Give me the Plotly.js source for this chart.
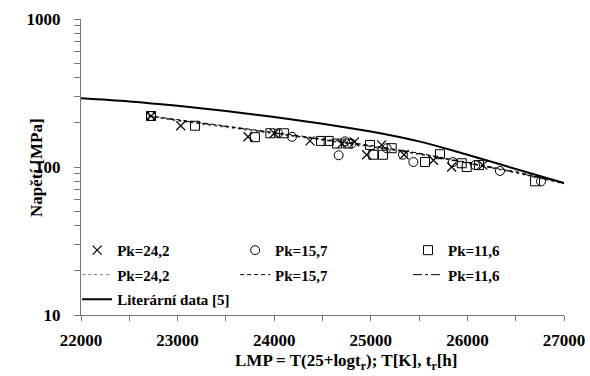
<!DOCTYPE html>
<html>
<head>
<meta charset="utf-8">
<script src="https://cdn.plot.ly/plotly-3.0.1.min.js"></script>
<style>html,body{margin:0;padding:0;background:#fff;}#chart{width:590px;height:376px;}</style>
</head>
<body>
<div id="chart"></div>
<script>
// Experimental data (LMP, stress MPa)
const lmp242 = [22725, 23032, 23729, 24000, 24371, 24700, 24830, 24957, 25112, 25345, 25648, 25837, 26160];
const sig242 = [221, 190, 160, 169, 150, 144, 148, 121, 141, 121, 111, 100, 103];
const lmp157 = [22725, 24040, 24184, 24667, 24733, 24800, 25164, 25333, 25441, 25850, 26080, 26337, 26762];
const sig157 = [221, 169, 160, 120, 149, 144, 134, 121, 108, 108, 103, 94, 80];
const lmp116 = [22725, 23180, 23800, 23960, 24100, 24485, 24564, 24650, 24760, 24992, 25026, 25126, 25216, 25561, 25716, 25941, 25993, 26120, 26700];
const sig116 = [221, 190, 159, 169, 169, 150, 150, 144, 144, 141, 121, 121, 134, 108, 122, 106, 100, 103, 80];
// Fitted curves
const lmpFit = [22700, 23000, 23500, 24000, 24500, 25000, 25500, 26000, 26500, 27000];
const fit242 = [220, 204, 185, 168, 152, 137, 121, 106, 91, 77];
const fit157 = [222, 209, 190, 172, 156, 140, 124, 108, 93, 78];
const fit116 = [221, 207, 188, 170, 154, 138, 123, 107, 92, 77.5];
// Literature data
const lmpLit = [22000, 22500, 23000, 23500, 24000, 24500, 25000, 25500, 26000, 26500, 27000];
const sigLit = [291, 277, 259, 239, 218, 196, 174, 149, 121, 97, 78];
// Labels
const names = ['Pk=24,2', 'Pk=15,7', 'Pk=11,6'];
const litName = 'Literární data [5]';
const xTitle = 'LMP = T(25+logt<sub>r</sub>); T[K], t<sub>r</sub>[h]';
const yTitle = 'Napětí [MPa]';
const xTicks = [22000, 23000, 24000, 25000, 26000, 27000];
const xMinor = [22500, 23500, 24500, 25500, 26500];
const yTicks = [10, 100, 1000];
const yMinor = [20,30,40,50,60,70,80,90,200,300,400,500,600,700,800,900];

const serif = 'Liberation Serif, Times New Roman, serif';
const mk = (sym) => ({symbol: sym, size: 9, color: '#000', line: {color: '#000', width: 1}});

const traces = [
  {x: lmpFit, y: fit242, mode: 'lines', name: names[0], line: {color: '#777', width: 1, dash: 'dot'}, legend: 'legend', legendgroup: 'a2', legendrank: 2},
  {x: lmpFit, y: fit157, mode: 'lines', name: names[1], line: {color: '#000', width: 1, dash: '4px,3px'}, legend: 'legend2', legendgroup: 'b2', legendrank: 2},
  {x: lmpFit, y: fit116, mode: 'lines', name: names[2], line: {color: '#000', width: 1, dash: 'dashdot'}, legend: 'legend3', legendgroup: 'c2', legendrank: 2},
  {x: lmpLit, y: sigLit, mode: 'lines', name: litName, line: {color: '#000', width: 2, shape: 'spline'}, legend: 'legend', legendgroup: 'a3', legendrank: 3},
  {x: lmp242, y: sig242, mode: 'markers', name: names[0], marker: {symbol: 'x-thin-open', size: 9, color: '#000', line: {color: '#000', width: 1.2}}, legend: 'legend', legendgroup: 'a1', legendrank: 1},
  {x: lmp157, y: sig157, mode: 'markers', name: names[1], marker: mk('circle-open'), legend: 'legend2', legendgroup: 'b1', legendrank: 1},
  {x: lmp116, y: sig116, mode: 'markers', name: names[2], marker: mk('square-open'), legend: 'legend3', legendgroup: 'c1', legendrank: 1}
];

const legFont = {family: serif, size: 15, color: '#000', weight: 'bold'};
const legBase = {yanchor: 'top', xanchor: 'left', bgcolor: 'rgba(0,0,0,0)', font: legFont, traceorder: 'grouped', tracegroupgap: 2, orientation: 'v'};

const layout = {
  width: 590, height: 376,
  margin: {l: 81, r: 26, t: 19, b: 61},
  paper_bgcolor: '#fff', plot_bgcolor: '#fff',
  font: {family: serif, size: 17, color: '#000', weight: 'bold'},
  showlegend: true,
  xaxis: {
    range: [22000, 27000], tickvals: xTicks, ticktext: xTicks.map(String),
    ticks: 'outside', ticklen: 5, tickcolor: '#777', showline: true, linecolor: '#777', linewidth: 1,
    showgrid: false, zeroline: false, tickfont: {family: serif, size: 17, weight: 'bold'},
    minor: {tickvals: xMinor, ticks: 'outside', ticklen: 5, tickcolor: '#777', showgrid: false},
    ticklabelstandoff: 5
  },
  yaxis: {
    type: 'log', range: [1, 3], tickvals: yTicks, ticktext: yTicks.map(String),
    ticks: 'outside', ticklen: 6, tickcolor: '#777', showline: true, linecolor: '#777', linewidth: 1,
    showgrid: false, zeroline: false, tickfont: {family: serif, size: 17, weight: 'bold'},
    minor: {tickvals: yMinor, ticks: 'outside', ticklen: 6, tickcolor: '#777', showgrid: false},
    ticklabelstandoff: 10
  },
  yaxis2: {
    type: 'log', range: [1, 3], overlaying: 'y', anchor: 'x', side: 'left',
    tickvals: yTicks, ticks: 'inside', ticklen: 6, tickcolor: '#777', showticklabels: false,
    showline: false, showgrid: false, zeroline: false
  },
  annotations: [{
    text: xTitle, xref: 'paper', yref: 'paper',
    x: 0.549, y: -0.16, xanchor: 'center', yanchor: 'middle', showarrow: false,
    font: {family: serif, size: 17, weight: 'bold', color: '#000'}
  }, {
    text: yTitle, xref: 'paper', yref: 'paper', textangle: -90,
    x: (36 - 81) / 483, y: (315 - 168) / 296, xanchor: 'center', yanchor: 'middle', showarrow: false,
    font: {family: serif, size: 17, weight: 'bold', color: '#000'}
  }],
  legend: Object.assign({x: -0.008, y: 0.274}, legBase),
  legend2: Object.assign({x: 0.319, y: 0.274}, legBase),
  legend3: Object.assign({x: 0.677, y: 0.274}, legBase)
};

Plotly.newPlot('chart', traces, layout, {staticPlot: true, displayModeBar: false});
</script>
</body>
</html>
